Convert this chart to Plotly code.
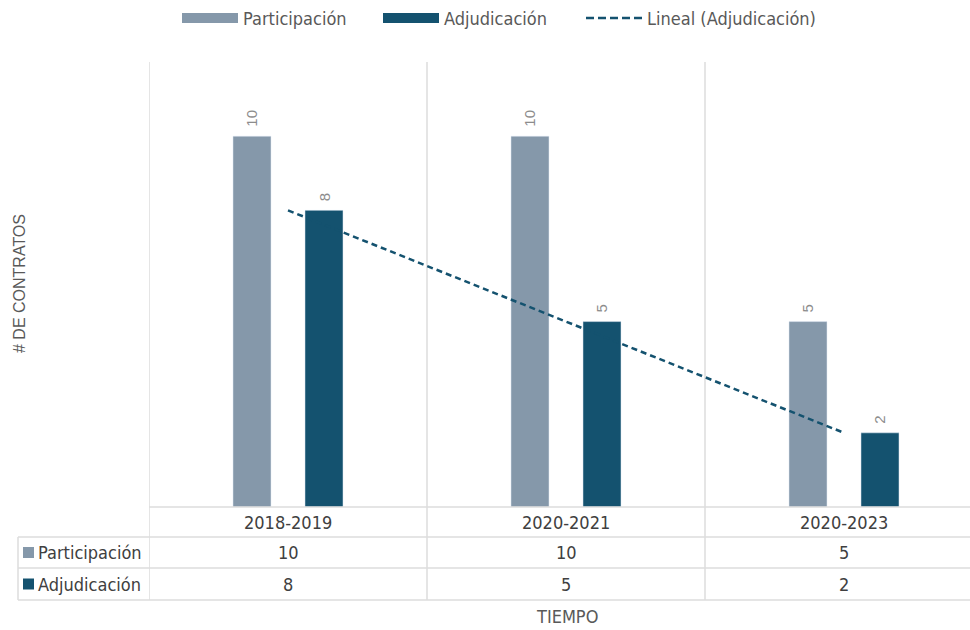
import numpy as np
import plotly.graph_objects as go

# Data
periodos = ["2018-2019", "2020-2021", "2020-2023"]
participacion = [10, 10, 5]
adjudicacion = [8, 5, 2]
serie_nombres = ["Participación", "Adjudicación"]
trend_nombre = "Lineal (Adjudicación)"

C_PART = "#8598AA"
C_ADJ = "#14526F"
GRID = "#DCDCDC"
NARROW = "Liberation Sans Narrow, DejaVu Sans Condensed, Roboto, sans-serif"
ARIAL = "Liberation Sans, Arial, sans-serif"

W, H = 970, 630


def py(p):
    """pixel row -> paper y"""
    return 1 - p / H


def px(p):
    """pixel column -> paper x"""
    return p / W


x = np.arange(len(periodos))

# Linear trend of the award series
coef = np.polyfit(x, adjudicacion, 1)
trend = np.polyval(coef, x)

fig = go.Figure()
fig.add_trace(go.Bar(x=x, y=participacion, name=serie_nombres[0],
                     marker_color=C_PART, showlegend=False))
fig.add_trace(go.Bar(x=x, y=adjudicacion, name=serie_nombres[1],
                     marker_color=C_ADJ, showlegend=False))
fig.add_trace(go.Scatter(
    x=x, y=trend, mode="lines", name=trend_nombre,
    line=dict(color=C_ADJ, width=2.5, dash="6px,4px"), showlegend=False,
))

x_left, x_right = 149, 983
n = len(periodos)
unit = (x_right - x_left) / n
rng_hi = (W - x_left) / unit - 0.5

BARGAP, GROUPGAP = 0.482, 0.472
fig.update_layout(
    width=W, height=H, margin=dict(l=0, r=0, t=0, b=0),
    paper_bgcolor="white", plot_bgcolor="white",
    barmode="group", bargap=BARGAP, bargroupgap=GROUPGAP,
    xaxis=dict(domain=[px(x_left), 1], range=[-0.5, rng_hi], showgrid=False,
               showticklabels=False, zeroline=False, showline=False, ticks=""),
    yaxis=dict(domain=[py(507), py(62)], range=[0, 12], showgrid=False,
               showticklabels=False, zeroline=False, showline=False, ticks=""),
)

shapes = []
ann = []

# Value labels above each bar (rotated), placed at the bar's own value
slot = (1 - BARGAP) / 2
for s, vals in enumerate([participacion, adjudicacion]):
    off = (s - 0.5) * slot
    for i, v in enumerate(vals):
        ann.append(dict(x=i + off, y=v, xref="x", yref="y", text=str(v), showarrow=False,
                        textangle=-90, xanchor="center", yanchor="bottom", yshift=7,
                        font=dict(family=ARIAL, size=15, color="#8C8C8C")))

# Category separators running through the data table
for i in range(n + 1):
    shapes.append(dict(type="line", xref="x", yref="paper", x0=i - 0.5, x1=i - 0.5,
                       y0=py(600), y1=py(62), line=dict(color=GRID, width=1.5), layer="below"))

# Table rules
row_tops = [507, 537, 568, 600]
shapes.append(dict(type="line", xref="paper", yref="paper", x0=px(x_left), x1=1,
                   y0=py(row_tops[0]), y1=py(row_tops[0]), line=dict(color=GRID, width=1.5)))
for r in row_tops[1:]:
    shapes.append(dict(type="line", xref="paper", yref="paper", x0=px(18), x1=1,
                       y0=py(r), y1=py(r), line=dict(color=GRID, width=1.5)))
shapes.append(dict(type="line", xref="paper", yref="paper", x0=px(18), x1=px(18),
                   y0=py(600), y1=py(537), line=dict(color=GRID, width=1.5)))

TXT = dict(family=NARROW, size=18, color="#404040")

# Header row: periods
for i, p in enumerate(periodos):
    ann.append(dict(x=i, y=py((row_tops[0] + row_tops[1]) / 2), xref="x", yref="paper",
                    text=p, showarrow=False, xanchor="center", yanchor="middle", font=TXT))

# Body rows: series values with colour keys
series = [participacion, adjudicacion]
colors = [C_PART, C_ADJ]
for k, (vals, nm, col) in enumerate(zip(series, serie_nombres, colors)):
    yc = (row_tops[k + 1] + row_tops[k + 2]) / 2
    shapes.append(dict(type="rect", xref="paper", yref="paper", x0=px(23), x1=px(34),
                       y0=py(yc + 5.5), y1=py(yc - 5.5), fillcolor=col, line=dict(width=0)))
    ann.append(dict(x=px(36), y=py(yc), xref="paper", yref="paper", text=nm, showarrow=False,
                    xanchor="left", yanchor="middle", font=TXT))
    for i, v in enumerate(vals):
        ann.append(dict(x=i, y=py(yc), xref="x", yref="paper", text=str(v), showarrow=False,
                        xanchor="center", yanchor="middle", font=TXT))

# Axis titles
ann.append(dict(x=px(20), y=py(284), xref="paper", yref="paper", text="# DE CONTRATOS",
                showarrow=False, textangle=-90, xanchor="center", yanchor="middle",
                font=dict(family=ARIAL, size=16, color="#595959")))
ann.append(dict(x=px(567), y=py(616), xref="paper", yref="paper", text="TIEMPO",
                showarrow=False, xanchor="center", yanchor="middle",
                font=dict(family=NARROW, size=18, color="#595959")))

# Legend across the top
ly = 18
legend_items = [
    (182, "rect", C_PART, serie_nombres[0]),
    (383, "rect", C_ADJ, serie_nombres[1]),
    (586, "line", C_ADJ, trend_nombre),
]
for x0, kind, col, label in legend_items:
    if kind == "rect":
        shapes.append(dict(type="rect", xref="paper", yref="paper", x0=px(x0), x1=px(x0 + 56),
                           y0=py(ly + 5), y1=py(ly - 5), fillcolor=col, line=dict(width=0)))
    else:
        shapes.append(dict(type="line", xref="paper", yref="paper", x0=px(x0), x1=px(x0 + 56),
                           y0=py(ly), y1=py(ly), line=dict(color=col, width=2.5, dash="8px,4px")))
    ann.append(dict(x=px(x0 + 59), y=py(ly), xref="paper", yref="paper", text=label,
                    showarrow=False, xanchor="left", yanchor="middle",
                    font=dict(family=NARROW, size=18, color="#595959")))

fig.update_layout(shapes=shapes, annotations=ann)
fig.write_html("out.html")
